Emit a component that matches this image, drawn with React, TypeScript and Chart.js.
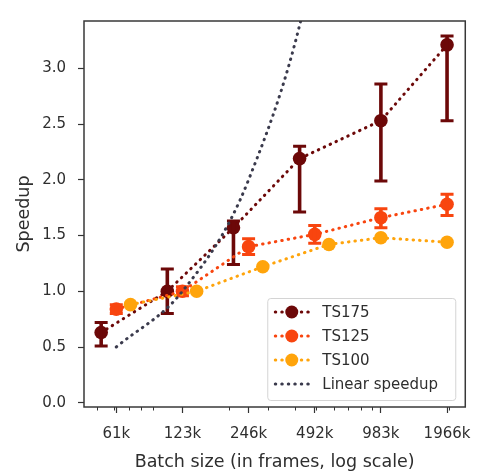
import { useEffect, useRef } from "react";
import { Chart, registerables } from "chart.js";

Chart.register(...registerables);

// Axis ticks
const xTickValues = [61440, 122880, 245760, 491520, 983040, 1966080];
const xTickLabels = ["61k", "123k", "246k", "492k", "983k", "1966k"];
const yTickValues = [0, 0.5, 1, 1.5, 2, 2.5, 3];

// TS175: batch size (frames), mean speedup, min / max
const ts175Batch = [52429, 104858, 209715, 419430, 983040, 1966080];
const ts175Speedup = [0.63, 1.0, 1.57, 2.19, 2.53, 3.21];
const ts175Low = [0.51, 0.8, 1.24, 1.71, 1.99, 2.53];
const ts175High = [0.72, 1.2, 1.63, 2.3, 2.86, 3.29];

// TS125
const ts125Batch = [61440, 122880, 245760, 491520, 983040, 1966080];
const ts125Speedup = [0.84, 1.0, 1.4, 1.51, 1.66, 1.78];
const ts125Low = [0.8, 0.96, 1.33, 1.43, 1.57, 1.68];
const ts125High = [0.88, 1.04, 1.47, 1.59, 1.74, 1.87];

// TS100
const ts100Batch = [71300, 142600, 285200, 570400, 983040, 1966080];
const ts100Speedup = [0.88, 1.0, 1.22, 1.42, 1.48, 1.44];

// Ideal (linear) speedup relative to 123k frames
const linearBatch = [61440, 122880, 245760, 491520, 983040, 1966080];
const linearSpeedup = [0.5, 1, 2, 4, 8, 16];

const C175 = "#6c0808";
const C125 = "#f8450f";
const C100 = "#ffa40b";
const CLIN = "#3a3a4c";
const TEXT = "#2e2e2e";
const FONT = "'DejaVu Sans', sans-serif";
const DOTS = [0.5, 6];

const pts = (xs: number[], ys: number[]) => xs.map((x, i) => ({ x, y: ys[i] }));

const errorBars: Record<string, { x: number[]; low: number[]; high: number[] }> = {
  TS175: { x: ts175Batch, low: ts175Low, high: ts175High },
  TS125: { x: ts125Batch, low: ts125Low, high: ts125High },
};

const extras = {
  id: "extras",
  afterDatasetDraw(chart: any, args: any) {
    const ds = chart.data.datasets[args.index];
    const eb = errorBars[ds.label];
    if (!eb) return;
    const { ctx, scales } = chart;
    ctx.save();
    ctx.strokeStyle = ds.pointBackgroundColor;
    ctx.lineCap = "butt";
    eb.x.forEach((xv, i) => {
      const px = scales.x.getPixelForValue(xv);
      const top = scales.y.getPixelForValue(eb.high[i]);
      const bot = scales.y.getPixelForValue(eb.low[i]);
      ctx.lineWidth = 3.6;
      ctx.beginPath();
      ctx.moveTo(px, top);
      ctx.lineTo(px, bot);
      ctx.stroke();
      ctx.lineWidth = 3;
      ctx.beginPath();
      ctx.moveTo(px - 6.5, top);
      ctx.lineTo(px + 6.5, top);
      ctx.moveTo(px - 6.5, bot);
      ctx.lineTo(px + 6.5, bot);
      ctx.stroke();
    });
    ctx.restore();
  },
  afterDraw(chart: any) {
    const { ctx, chartArea: a, scales } = chart;
    ctx.save();
    // minor log ticks
    ctx.strokeStyle = "#333";
    ctx.lineWidth = 1;
    const xs = scales.x;
    for (let n = 4; n <= 6; n++) {
      for (let k = 2; k <= 9; k++) {
        const v = k * Math.pow(10, n);
        if (v < xs.min || v > xs.max) continue;
        const px = Math.round(xs.getPixelForValue(v)) + 0.5;
        ctx.beginPath();
        ctx.moveTo(px, a.bottom);
        ctx.lineTo(px, a.bottom + 3.5);
        ctx.stroke();
      }
    }
    // frame
    ctx.strokeStyle = "#383838";
    ctx.lineWidth = 1.5;
    ctx.strokeRect(a.left, a.top, a.right - a.left, a.bottom - a.top);

    // legend
    const w = 188;
    const h = 102;
    const lx = a.right - 10 - w;
    const ly = a.bottom - 7 - h;
    ctx.beginPath();
    ctx.roundRect(lx + 0.5, ly + 0.5, w, h, 3);
    ctx.fillStyle = "rgba(255,255,255,0.85)";
    ctx.fill();
    ctx.strokeStyle = "#d4d4d4";
    ctx.lineWidth = 1;
    ctx.stroke();
    ctx.font = `15px ${FONT}`;
    ctx.textBaseline = "middle";
    ctx.textAlign = "left";
    chart.data.datasets.forEach((ds: any, i: number) => {
      const cy = ly + 14 + i * 24;
      ctx.strokeStyle = ds.borderColor;
      ctx.lineWidth = 3;
      ctx.lineCap = "round";
      ctx.setLineDash(DOTS);
      ctx.beginPath();
      ctx.moveTo(lx + 8, cy);
      ctx.lineTo(lx + 42, cy);
      ctx.stroke();
      ctx.setLineDash([]);
      if (ds.pointRadius > 0) {
        ctx.fillStyle = ds.pointBackgroundColor;
        ctx.beginPath();
        ctx.arc(lx + 24.5, cy, 6.5, 0, Math.PI * 2);
        ctx.fill();
      }
      ctx.fillStyle = TEXT;
      ctx.fillText(ds.label, lx + 55, cy + 1);
    });
    ctx.restore();
  },
};

const series = (label: string, data: any[], color: string, order: number) => ({
  label,
  data,
  order,
  borderColor: color,
  pointBackgroundColor: color,
  pointBorderWidth: 0,
  pointRadius: 6.8,
  borderWidth: 3,
  borderDash: DOTS,
  borderCapStyle: "round",
  fill: false,
});

export default function App() {
  const ref = useRef<HTMLCanvasElement>(null);

  useEffect(() => {
    const canvas = ref.current;
    if (!canvas) return;
    const chart = new Chart(canvas, {
      type: "line",
      data: {
        datasets: [
          series("TS175", pts(ts175Batch, ts175Speedup), C175, 3),
          series("TS125", pts(ts125Batch, ts125Speedup), C125, 2),
          series("TS100", pts(ts100Batch, ts100Speedup), C100, 1),
          {
            ...series("Linear speedup", pts(linearBatch, linearSpeedup), CLIN, 0),
            pointRadius: 0,
            cubicInterpolationMode: "monotone",
            capBezierPoints: false,
          },
        ] as any,
      },
      options: {
        animation: false,
        responsive: false,
        events: [],
        layout: { padding: { top: 11, right: 11, left: 0, bottom: 0 } },
        plugins: { legend: { display: false }, tooltip: { enabled: false } },
        scales: {
          x: {
            type: "logarithmic",
            min: 43800,
            max: 2380000,
            afterBuildTicks: (s: any) => {
              s.ticks = xTickValues.map((v) => ({ value: v }));
            },
            afterFit: (s: any) => {
              s.height = 64;
            },
            ticks: {
              autoSkip: false,
              maxRotation: 0,
              padding: 12,
              color: TEXT,
              font: { family: FONT, size: 15 },
              callback: (v: any) => {
                const i = xTickValues.indexOf(Number(v));
                return i >= 0 ? xTickLabels[i] : "";
              },
            },
            grid: { drawOnChartArea: false, tickLength: 6, tickColor: "#333", tickWidth: 1.2 },
            border: { display: false },
            title: {
              display: true,
              text: "Batch size (in frames, log scale)",
              color: TEXT,
              font: { family: FONT, size: 17.5 },
              padding: { top: 0, bottom: -2 },
            },
          },
          y: {
            type: "linear",
            min: -0.038,
            max: 3.424,
            afterBuildTicks: (s: any) => {
              s.ticks = yTickValues.map((v) => ({ value: v }));
            },
            afterFit: (s: any) => {
              s.width = 84;
            },
            ticks: {
              padding: 12,
              color: TEXT,
              font: { family: FONT, size: 15 },
              callback: (v: any) => Number(v).toFixed(1),
            },
            grid: { drawOnChartArea: false, tickLength: 6, tickColor: "#333", tickWidth: 1.2 },
            border: { display: false },
            title: {
              display: true,
              text: "Speedup",
              color: TEXT,
              font: { family: FONT, size: 17.5 },
              padding: { top: 13.5, bottom: 0 },
            },
          },
        },
      },
      plugins: [extras],
    });
    return () => chart.destroy();
  }, []);

  return (
    <div style={{ position: "absolute", left: 0, top: 0, width: 483, height: 471, background: "#fff" }}>
      <canvas ref={ref} width={483} height={471} style={{ width: 483, height: 471, display: "block" }} />
    </div>
  );
}
